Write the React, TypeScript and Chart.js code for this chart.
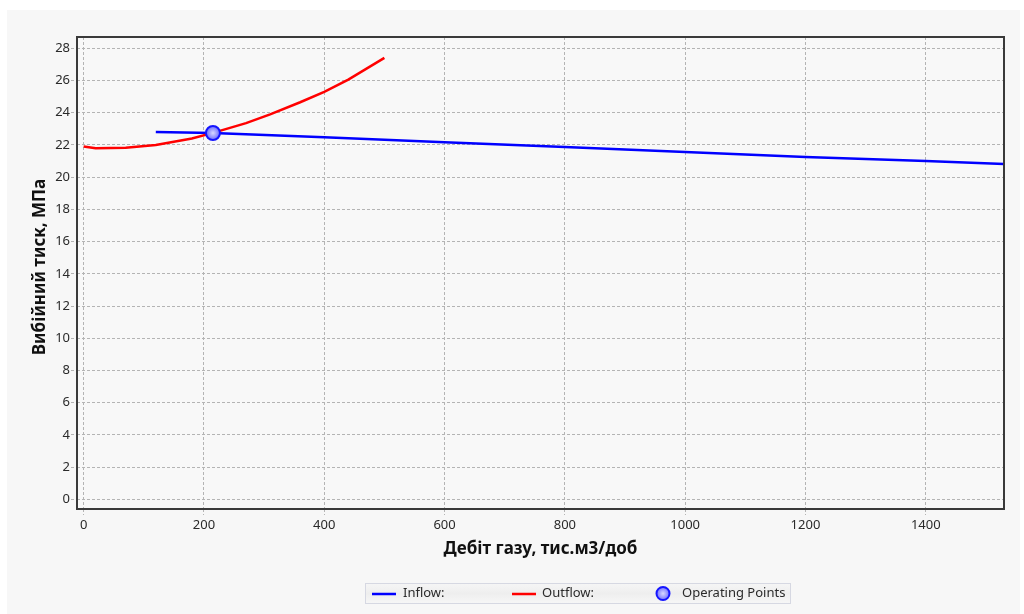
import React, { useEffect, useRef } from "react";
import { Chart, registerables } from "chart.js";

Chart.register(...registerables);

// Inflow performance curve (rate, тис.м3/доб -> bottom-hole pressure, МПа)
const inflowRate = [120, 215, 400, 600, 800, 1000, 1200, 1400, 1530];
const inflowPressure = [22.8, 22.74, 22.47, 22.17, 21.87, 21.56, 21.25, 21.0, 20.82];

// Outflow (tubing) curve
const outflowRate = [0, 20, 70, 120, 150, 180, 215, 270, 310, 360, 400, 440, 500];
const outflowPressure = [21.9, 21.8, 21.82, 22.0, 22.2, 22.4, 22.75, 23.35, 23.9, 24.65, 25.3, 26.05, 27.4];

// Intersection of the two curves
const operatingRate = [215];
const operatingPressure = [22.74];

const legendLabels = ["Inflow:", "Outflow:", "Operating Points"];
const xTitle = "Дебіт газу, тис.м3/доб";
const yTitle = "Вибійний тиск, МПа";

const FONT = "'Noto Sans', 'Open Sans', sans-serif";
const PANEL = "#f7f7f7";
const TEXT = "#2a2a2a";
const GRID = "#b4b4b4";

const toPoints = (xs: number[], ys: number[]) => xs.map((x, i) => ({ x, y: ys[i] }));

const framePlugin = {
  id: "frame",
  beforeDraw(chart: any) {
    const { ctx, width, height, chartArea } = chart;
    ctx.save();
    ctx.fillStyle = "#ffffff";
    ctx.fillRect(0, 0, width, height);
    ctx.fillStyle = PANEL;
    ctx.fillRect(7, 10, 1013, height - 10);
    ctx.fillStyle = "#f8f8f8";
    ctx.fillRect(chartArea.left, chartArea.top, chartArea.right - chartArea.left, chartArea.bottom - chartArea.top);
    ctx.restore();
  },
  afterDraw(chart: any) {
    const { ctx, chartArea } = chart;
    const { left, top, right, bottom } = chartArea;
    ctx.save();
    // plot box
    ctx.strokeStyle = "#3a3a3a";
    ctx.lineWidth = 2;
    ctx.strokeRect(left, top, right - left, bottom - top);

    // axis titles
    ctx.fillStyle = "#111111";
    ctx.font = `bold 17px ${FONT}`;
    ctx.textAlign = "center";
    ctx.textBaseline = "middle";
    ctx.fillText(xTitle, (left + right) / 2, 549);
    ctx.save();
    ctx.translate(40, 267);
    ctx.rotate(-Math.PI / 2);
    ctx.fillText(yTitle, 0, 0);
    ctx.restore();

    // legend box
    const lx = 365, ly = 583, lw = 426, lh = 21;
    const g = ctx.createLinearGradient(0, ly, 0, ly + lh);
    g.addColorStop(0, "#f6f6f6");
    g.addColorStop(0.5, "#eeeeee");
    g.addColorStop(1, "#f7f7f7");
    ctx.fillStyle = g;
    ctx.fillRect(lx, ly, lw, lh);
    ctx.strokeStyle = "#d6d8e2";
    ctx.lineWidth = 1;
    ctx.strokeRect(lx + 0.5, ly + 0.5, lw - 1, lh - 1);

    const cy = ly + lh / 2;
    ctx.lineWidth = 2.5;
    ctx.strokeStyle = "#0000ff";
    ctx.beginPath();
    ctx.moveTo(372, cy + 0.5);
    ctx.lineTo(396, cy + 0.5);
    ctx.stroke();
    ctx.strokeStyle = "#ff0000";
    ctx.beginPath();
    ctx.moveTo(512, cy + 0.5);
    ctx.lineTo(536, cy + 0.5);
    ctx.stroke();

    const rg = ctx.createRadialGradient(663, cy, 0, 663, cy, 7);
    rg.addColorStop(0, "#d8d8ff");
    rg.addColorStop(1, "#6a6aff");
    ctx.fillStyle = rg;
    ctx.strokeStyle = "#1414ff";
    ctx.lineWidth = 2;
    ctx.beginPath();
    ctx.arc(663, cy, 6.5, 0, Math.PI * 2);
    ctx.fill();
    ctx.stroke();

    ctx.fillStyle = TEXT;
    ctx.font = `13px ${FONT}`;
    ctx.textAlign = "left";
    ctx.textBaseline = "middle";
    ctx.fillText(legendLabels[0], 403, cy);
    ctx.fillText(legendLabels[1], 542, cy);
    ctx.fillText(legendLabels[2], 682, cy);
    ctx.restore();
  },
};

const plainTick = (v: any) => String(v);

export default function App() {
  const canvasRef = useRef<HTMLCanvasElement | null>(null);

  useEffect(() => {
    if (!canvasRef.current) return;
    const chart = new Chart(canvasRef.current, {
      type: "line",
      data: {
        datasets: [
          {
            label: legendLabels[2],
            data: toPoints(operatingRate, operatingPressure),
            showLine: false,
            pointRadius: 7,
            pointBorderWidth: 2,
            pointBorderColor: "#1414ff",
            pointBackgroundColor: (c: any) => {
              const ch = c.chart;
              const p = c.raw;
              const fallback = "#8f8fff";
              if (!p || !ch.scales || !ch.scales.x || !ch.scales.y) return fallback;
              const px = ch.scales.x.getPixelForValue(p.x);
              const py = ch.scales.y.getPixelForValue(p.y);
              if (!Number.isFinite(px) || !Number.isFinite(py)) return fallback;
              const rg = ch.ctx.createRadialGradient(px, py, 0, px, py, 7);
              rg.addColorStop(0, "#d8d8ff");
              rg.addColorStop(1, "#6a6aff");
              return rg;
            },
            order: 0,
          },
          {
            label: legendLabels[0],
            data: toPoints(inflowRate, inflowPressure),
            borderColor: "#0000ff",
            borderWidth: 2.5,
            pointRadius: 0,
            tension: 0,
            order: 2,
          },
          {
            label: legendLabels[1],
            data: toPoints(outflowRate, outflowPressure),
            borderColor: "#ff0000",
            borderWidth: 2.5,
            pointRadius: 0,
            tension: 0,
            order: 1,
          },
        ],
      },
      options: {
        animation: false,
        responsive: false,
        events: [],
        layout: { padding: { left: 0, top: 37, right: 20, bottom: 0 } },
        plugins: { legend: { display: false }, tooltip: { enabled: false } },
        scales: {
          x: {
            type: "linear",
            min: -11,
            max: 1530,
            border: { display: false, dash: [3, 2] },
            grid: {
              color: GRID,
              lineWidth: 1,
              tickLength: 6,
              tickColor: GRID,
              tickBorderDash: [3, 2],
            } as any,
            ticks: {
              stepSize: 200,
              includeBounds: false,
              padding: 2,
              color: TEXT,
              font: { family: FONT, size: 13 },
              maxRotation: 0,
              callback: plainTick,
            },
            afterFit(scale: any) {
              scale.height = 105;
            },
          },
          y: {
            type: "linear",
            min: -0.6,
            max: 28.7,
            border: { display: false, dash: [3, 2] },
            grid: {
              color: GRID,
              lineWidth: 1,
              tickLength: 6,
              tickColor: GRID,
              tickBorderDash: [3, 2],
            } as any,
            ticks: {
              stepSize: 2,
              includeBounds: false,
              padding: 1,
              color: TEXT,
              font: { family: FONT, size: 13 },
              callback: plainTick,
            },
            afterFit(scale: any) {
              scale.width = 77;
            },
          },
        },
      },
      plugins: [framePlugin],
    });
    return () => chart.destroy();
  }, []);

  return (
    <div style={{ position: "fixed", left: 0, top: 0, width: 1024, height: 614 }}>
      <canvas ref={canvasRef} width={1024} height={614} style={{ width: 1024, height: 614 }} />
    </div>
  );
}
